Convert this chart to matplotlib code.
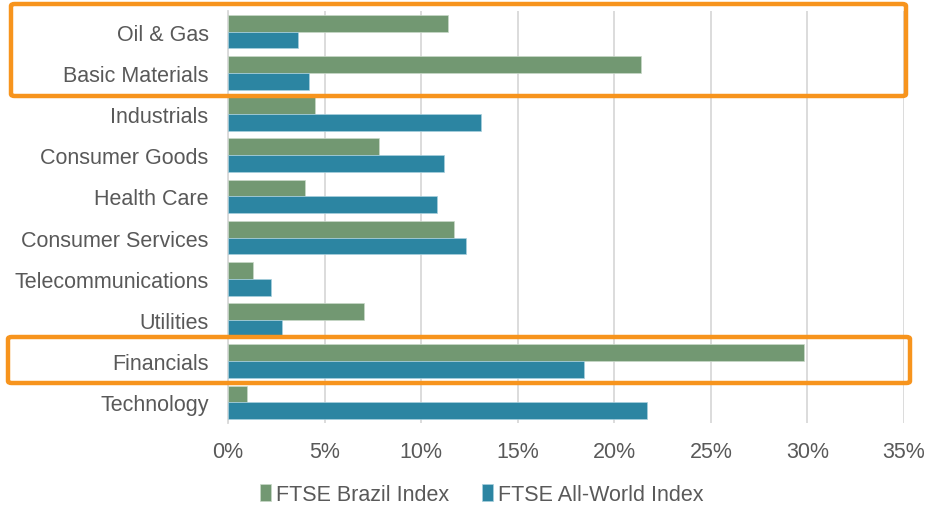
import matplotlib.pyplot as plt
from matplotlib.patches import FancyBboxPatch
from matplotlib.ticker import FuncFormatter
import numpy as np

plt.rcParams['font.family'] = ['Liberation Sans', 'DejaVu Sans']

sectors = ["Oil & Gas", "Basic Materials", "Industrials", "Consumer Goods",
           "Health Care", "Consumer Services", "Telecommunications",
           "Utilities", "Financials", "Technology"]
brazil = [11.4, 21.4, 4.5, 7.8, 4.0, 11.7, 1.3, 7.05, 29.8, 1.0]
all_world = [3.6, 4.2, 13.1, 11.2, 10.8, 12.3, 2.2, 2.8, 18.45, 21.7]
xticks = [0, 5, 10, 15, 20, 25, 30, 35]

green = "#729872"
blue = "#2C85A2"
orange = "#F7941D"
text_gray = "#595959"
fs = 15.5

fig = plt.figure(figsize=(9.25, 5.1), dpi=100)
ax = fig.add_axes([0.2465, 0.1686, 0.7308, 0.8079])

y = np.arange(len(sectors))
h = 0.41
ax.barh(y - h / 2, brazil, height=h, color=green, edgecolor="#c9d9c9",
        linewidth=0.5, label="FTSE Brazil Index", zorder=3)
ax.barh(y + h / 2, all_world, height=h, color=blue, edgecolor="#a9d0dd",
        linewidth=0.5, label="FTSE All-World Index", zorder=3)

ax.set_ylim(len(sectors) - 0.5, -0.5)
ax.set_xlim(0, 35)
ax.set_yticks(y)
ax.set_yticklabels(sectors)
ax.set_xticks(xticks)
ax.xaxis.set_major_formatter(FuncFormatter(lambda v, p: f"{v:.0f}%"))
ax.tick_params(axis="both", length=0, labelsize=fs, labelcolor=text_gray)
ax.tick_params(axis="y", pad=14)
ax.tick_params(axis="x", pad=13)

ax.grid(axis="x", color="#D9D9D9", linewidth=1.3, zorder=0)
for s in ["top", "right", "bottom"]:
    ax.spines[s].set_visible(False)
ax.spines["left"].set_color("#D9D9D9")
ax.spines["left"].set_linewidth(1.3)

handles, labels = ax.get_legend_handles_labels()
fig.legend(handles, labels, loc="center", bbox_to_anchor=(0.521, 0.028),
           ncol=2, frameon=False, fontsize=fs, labelcolor=text_gray,
           handlelength=0.5, handleheight=0.85, handletextpad=0.25,
           columnspacing=1.5)

# highlight boxes around the resource and financial sectors
for x0, y0, x1, y1 in [(11, 5, 906, 97), (8, 338, 910, 384)]:
    box = FancyBboxPatch((x0 / 925, 1 - y1 / 510), (x1 - x0) / 925, (y1 - y0) / 510,
                         boxstyle="round,pad=0,rounding_size=0.004",
                         transform=fig.transFigure, fill=False,
                         edgecolor=orange, linewidth=3.2, zorder=10)
    fig.add_artist(box)

fig.savefig("out.png", dpi=100)
